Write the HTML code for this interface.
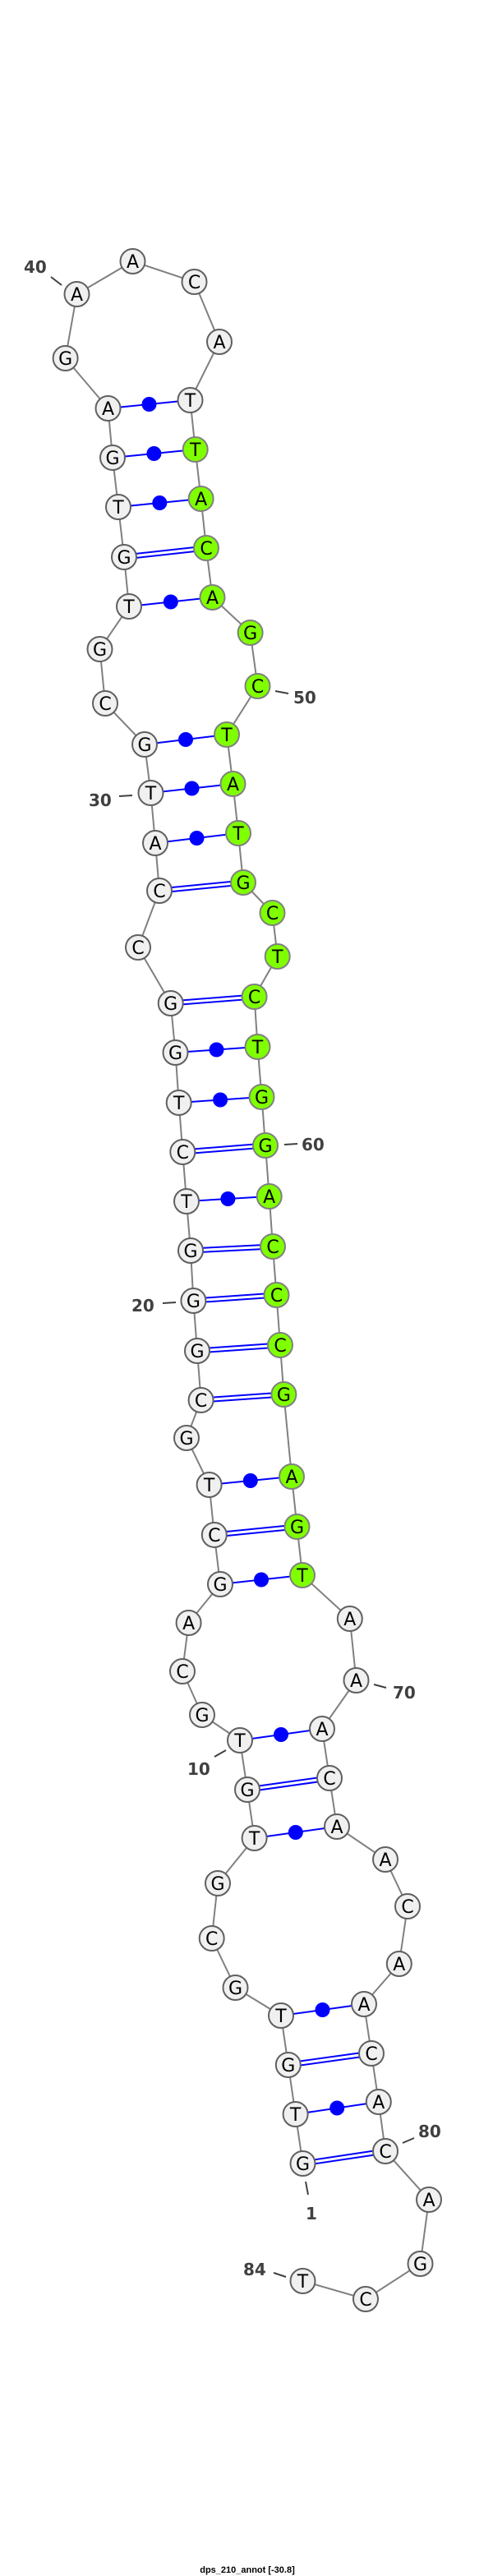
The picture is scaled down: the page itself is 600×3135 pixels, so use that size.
<!DOCTYPE html>
<html><head><meta charset="utf-8"><style>
html,body{margin:0;padding:0;background:#fff;}
svg{display:block;}
.n{fill:#f0f0f0;stroke:#606060;stroke-width:2;}
.g{fill:#7fff00;stroke:#808080;stroke-width:2;}
.t{font-family:"DejaVu Sans","Liberation Sans",sans-serif;font-size:22px;text-anchor:middle;fill:#000;}
.l{font-family:"DejaVu Sans","Liberation Sans",sans-serif;font-size:20px;font-weight:bold;fill:#404040;}
.bb{fill:none;stroke:#808080;stroke-width:2;}
.d1{stroke:#0000ff;stroke-width:7;}
.d2{stroke:#fff;stroke-width:3;}
.s{stroke:#0000ff;stroke-width:2;}
.tk{stroke:#404040;stroke-width:2;}
</style></head><body>
<svg width="600" height="3135" viewBox="0 0 600 3135" xmlns="http://www.w3.org/2000/svg">
<polyline class="bb" points="368.5,2633 359.6,2573 350.8,2513 342,2453 286.5,2419 257.7,2359 265,2292 309.6,2237 301,2178 292,2118 246,2087 222,2034 229.6,1975 268,1928 260.8,1868 254.6,1807 227,1750 244.6,1704 240,1644 235.4,1583 232,1522 227,1462 222.3,1402 217.7,1342 213.5,1281 207.7,1221 168,1153 194,1084 189,1026 183.5,965 176,906 128,856 121.5,790 157,738 151,678 144,617 137,557 131.5,497 79.6,436 93.5,358 161.5,318 236.5,343 267,416 231.5,487 237.7,547 244.6,607 251,667 258.5,727 304.6,770 313.5,835 276,894 283.5,954 290,1014 296,1074 331.5,1111 337.7,1164 309.6,1213 313.5,1274 318.5,1335 323,1394 327.7,1456 332,1517 336.5,1576 341,1637 345.4,1697 355,1797 361.5,1858 368,1917 425.8,1970 433.5,2045 392,2104 401,2164 410,2223 469,2263 496,2320 485.8,2390 443,2439 452,2499 460.8,2558 469,2618 522,2677 511.5,2755 445,2798 368.5,2776"/>
<g>
<line class="d1" x1="368.5" y1="2633" x2="469" y2="2618"/><line class="d2" x1="368.5" y1="2633" x2="469" y2="2618"/>
<line class="d1" x1="350.8" y1="2513" x2="452" y2="2499"/><line class="d2" x1="350.8" y1="2513" x2="452" y2="2499"/>
<line class="d1" x1="301" y1="2178" x2="401" y2="2164"/><line class="d2" x1="301" y1="2178" x2="401" y2="2164"/>
<line class="d1" x1="260.8" y1="1868" x2="361.5" y2="1858"/><line class="d2" x1="260.8" y1="1868" x2="361.5" y2="1858"/>
<line class="d1" x1="244.6" y1="1704" x2="345.4" y2="1697"/><line class="d2" x1="244.6" y1="1704" x2="345.4" y2="1697"/>
<line class="d1" x1="240" y1="1644" x2="341" y2="1637"/><line class="d2" x1="240" y1="1644" x2="341" y2="1637"/>
<line class="d1" x1="235.4" y1="1583" x2="336.5" y2="1576"/><line class="d2" x1="235.4" y1="1583" x2="336.5" y2="1576"/>
<line class="d1" x1="232" y1="1522" x2="332" y2="1517"/><line class="d2" x1="232" y1="1522" x2="332" y2="1517"/>
<line class="d1" x1="222.3" y1="1402" x2="323" y2="1394"/><line class="d2" x1="222.3" y1="1402" x2="323" y2="1394"/>
<line class="d1" x1="207.7" y1="1221" x2="309.6" y2="1213"/><line class="d2" x1="207.7" y1="1221" x2="309.6" y2="1213"/>
<line class="d1" x1="194" y1="1084" x2="296" y2="1074"/><line class="d2" x1="194" y1="1084" x2="296" y2="1074"/>
<line class="d1" x1="151" y1="678" x2="251" y2="667"/><line class="d2" x1="151" y1="678" x2="251" y2="667"/>
</g>
<g>
<line class="s" x1="359.6" y1="2573" x2="460.8" y2="2558"/><circle cx="410.2" cy="2565.5" r="9" fill="#00f"/>
<line class="s" x1="342" y1="2453" x2="443" y2="2439"/><circle cx="392.5" cy="2446" r="9" fill="#00f"/>
<line class="s" x1="309.6" y1="2237" x2="410" y2="2223"/><circle cx="359.8" cy="2230" r="9" fill="#00f"/>
<line class="s" x1="292" y1="2118" x2="392" y2="2104"/><circle cx="342" cy="2111" r="9" fill="#00f"/>
<line class="s" x1="268" y1="1928" x2="368" y2="1917"/><circle cx="318" cy="1922.5" r="9" fill="#00f"/>
<line class="s" x1="254.6" y1="1807" x2="355" y2="1797"/><circle cx="304.8" cy="1802" r="9" fill="#00f"/>
<line class="s" x1="227" y1="1462" x2="327.7" y2="1456"/><circle cx="277.4" cy="1459" r="9" fill="#00f"/>
<line class="s" x1="217.7" y1="1342" x2="318.5" y2="1335"/><circle cx="268.1" cy="1338.5" r="9" fill="#00f"/>
<line class="s" x1="213.5" y1="1281" x2="313.5" y2="1274"/><circle cx="263.5" cy="1277.5" r="9" fill="#00f"/>
<line class="s" x1="189" y1="1026" x2="290" y2="1014"/><circle cx="239.5" cy="1020" r="9" fill="#00f"/>
<line class="s" x1="183.5" y1="965" x2="283.5" y2="954"/><circle cx="233.5" cy="959.5" r="9" fill="#00f"/>
<line class="s" x1="176" y1="906" x2="276" y2="894"/><circle cx="226" cy="900" r="9" fill="#00f"/>
<line class="s" x1="157" y1="738" x2="258.5" y2="727"/><circle cx="207.8" cy="732.5" r="9" fill="#00f"/>
<line class="s" x1="144" y1="617" x2="244.6" y2="607"/><circle cx="194.3" cy="612" r="9" fill="#00f"/>
<line class="s" x1="137" y1="557" x2="237.7" y2="547"/><circle cx="187.4" cy="552" r="9" fill="#00f"/>
<line class="s" x1="131.5" y1="497" x2="231.5" y2="487"/><circle cx="181.5" cy="492" r="9" fill="#00f"/>
</g>
<line class="tk" x1="62" y1="337" x2="75" y2="347"/>
<line class="tk" x1="335" y1="841" x2="351" y2="844"/>
<line class="tk" x1="145" y1="969" x2="161" y2="968"/>
<line class="tk" x1="346" y1="1393" x2="362" y2="1392"/>
<line class="tk" x1="198" y1="1586" x2="214" y2="1585"/>
<line class="tk" x1="455" y1="2050" x2="470" y2="2054"/>
<line class="tk" x1="261" y1="2138" x2="275" y2="2130"/>
<line class="tk" x1="490" y1="2608" x2="504" y2="2602"/>
<line class="tk" x1="372" y1="2655" x2="375" y2="2671"/>
<line class="tk" x1="333" y1="2766" x2="348" y2="2771"/>
<text class="l" x="29" y="332">40</text>
<text class="l" x="357" y="856">50</text>
<text class="l" x="108" y="981">30</text>
<text class="l" x="367" y="1400">60</text>
<text class="l" x="160" y="1596">20</text>
<text class="l" x="478" y="2067">70</text>
<text class="l" x="228" y="2160">10</text>
<text class="l" x="509" y="2601">80</text>
<text class="l" x="372" y="2701">1</text>
<text class="l" x="296" y="2769">84</text>
<g>
<circle class="n" cx="368.5" cy="2633" r="15"/><text class="t" x="368.5" y="2641">G</text>
<circle class="n" cx="359.6" cy="2573" r="15"/><text class="t" x="359.6" y="2581">T</text>
<circle class="n" cx="350.8" cy="2513" r="15"/><text class="t" x="350.8" y="2521">G</text>
<circle class="n" cx="342" cy="2453" r="15"/><text class="t" x="342" y="2461">T</text>
<circle class="n" cx="286.5" cy="2419" r="15"/><text class="t" x="286.5" y="2427">G</text>
<circle class="n" cx="257.7" cy="2359" r="15"/><text class="t" x="257.7" y="2367">C</text>
<circle class="n" cx="265" cy="2292" r="15"/><text class="t" x="265" y="2300">G</text>
<circle class="n" cx="309.6" cy="2237" r="15"/><text class="t" x="309.6" y="2245">T</text>
<circle class="n" cx="301" cy="2178" r="15"/><text class="t" x="301" y="2186">G</text>
<circle class="n" cx="292" cy="2118" r="15"/><text class="t" x="292" y="2126">T</text>
<circle class="n" cx="246" cy="2087" r="15"/><text class="t" x="246" y="2095">G</text>
<circle class="n" cx="222" cy="2034" r="15"/><text class="t" x="222" y="2042">C</text>
<circle class="n" cx="229.6" cy="1975" r="15"/><text class="t" x="229.6" y="1983">A</text>
<circle class="n" cx="268" cy="1928" r="15"/><text class="t" x="268" y="1936">G</text>
<circle class="n" cx="260.8" cy="1868" r="15"/><text class="t" x="260.8" y="1876">C</text>
<circle class="n" cx="254.6" cy="1807" r="15"/><text class="t" x="254.6" y="1815">T</text>
<circle class="n" cx="227" cy="1750" r="15"/><text class="t" x="227" y="1758">G</text>
<circle class="n" cx="244.6" cy="1704" r="15"/><text class="t" x="244.6" y="1712">C</text>
<circle class="n" cx="240" cy="1644" r="15"/><text class="t" x="240" y="1652">G</text>
<circle class="n" cx="235.4" cy="1583" r="15"/><text class="t" x="235.4" y="1591">G</text>
<circle class="n" cx="232" cy="1522" r="15"/><text class="t" x="232" y="1530">G</text>
<circle class="n" cx="227" cy="1462" r="15"/><text class="t" x="227" y="1470">T</text>
<circle class="n" cx="222.3" cy="1402" r="15"/><text class="t" x="222.3" y="1410">C</text>
<circle class="n" cx="217.7" cy="1342" r="15"/><text class="t" x="217.7" y="1350">T</text>
<circle class="n" cx="213.5" cy="1281" r="15"/><text class="t" x="213.5" y="1289">G</text>
<circle class="n" cx="207.7" cy="1221" r="15"/><text class="t" x="207.7" y="1229">G</text>
<circle class="n" cx="168" cy="1153" r="15"/><text class="t" x="168" y="1161">C</text>
<circle class="n" cx="194" cy="1084" r="15"/><text class="t" x="194" y="1092">C</text>
<circle class="n" cx="189" cy="1026" r="15"/><text class="t" x="189" y="1034">A</text>
<circle class="n" cx="183.5" cy="965" r="15"/><text class="t" x="183.5" y="973">T</text>
<circle class="n" cx="176" cy="906" r="15"/><text class="t" x="176" y="914">G</text>
<circle class="n" cx="128" cy="856" r="15"/><text class="t" x="128" y="864">C</text>
<circle class="n" cx="121.5" cy="790" r="15"/><text class="t" x="121.5" y="798">G</text>
<circle class="n" cx="157" cy="738" r="15"/><text class="t" x="157" y="746">T</text>
<circle class="n" cx="151" cy="678" r="15"/><text class="t" x="151" y="686">G</text>
<circle class="n" cx="144" cy="617" r="15"/><text class="t" x="144" y="625">T</text>
<circle class="n" cx="137" cy="557" r="15"/><text class="t" x="137" y="565">G</text>
<circle class="n" cx="131.5" cy="497" r="15"/><text class="t" x="131.5" y="505">A</text>
<circle class="n" cx="79.6" cy="436" r="15"/><text class="t" x="79.6" y="444">G</text>
<circle class="n" cx="93.5" cy="358" r="15"/><text class="t" x="93.5" y="366">A</text>
<circle class="n" cx="161.5" cy="318" r="15"/><text class="t" x="161.5" y="326">A</text>
<circle class="n" cx="236.5" cy="343" r="15"/><text class="t" x="236.5" y="351">C</text>
<circle class="n" cx="267" cy="416" r="15"/><text class="t" x="267" y="424">A</text>
<circle class="n" cx="231.5" cy="487" r="15"/><text class="t" x="231.5" y="495">T</text>
<circle class="g" cx="237.7" cy="547" r="15"/><text class="t" x="237.7" y="555">T</text>
<circle class="g" cx="244.6" cy="607" r="15"/><text class="t" x="244.6" y="615">A</text>
<circle class="g" cx="251" cy="667" r="15"/><text class="t" x="251" y="675">C</text>
<circle class="g" cx="258.5" cy="727" r="15"/><text class="t" x="258.5" y="735">A</text>
<circle class="g" cx="304.6" cy="770" r="15"/><text class="t" x="304.6" y="778">G</text>
<circle class="g" cx="313.5" cy="835" r="15"/><text class="t" x="313.5" y="843">C</text>
<circle class="g" cx="276" cy="894" r="15"/><text class="t" x="276" y="902">T</text>
<circle class="g" cx="283.5" cy="954" r="15"/><text class="t" x="283.5" y="962">A</text>
<circle class="g" cx="290" cy="1014" r="15"/><text class="t" x="290" y="1022">T</text>
<circle class="g" cx="296" cy="1074" r="15"/><text class="t" x="296" y="1082">G</text>
<circle class="g" cx="331.5" cy="1111" r="15"/><text class="t" x="331.5" y="1119">C</text>
<circle class="g" cx="337.7" cy="1164" r="15"/><text class="t" x="337.7" y="1172">T</text>
<circle class="g" cx="309.6" cy="1213" r="15"/><text class="t" x="309.6" y="1221">C</text>
<circle class="g" cx="313.5" cy="1274" r="15"/><text class="t" x="313.5" y="1282">T</text>
<circle class="g" cx="318.5" cy="1335" r="15"/><text class="t" x="318.5" y="1343">G</text>
<circle class="g" cx="323" cy="1394" r="15"/><text class="t" x="323" y="1402">G</text>
<circle class="g" cx="327.7" cy="1456" r="15"/><text class="t" x="327.7" y="1464">A</text>
<circle class="g" cx="332" cy="1517" r="15"/><text class="t" x="332" y="1525">C</text>
<circle class="g" cx="336.5" cy="1576" r="15"/><text class="t" x="336.5" y="1584">C</text>
<circle class="g" cx="341" cy="1637" r="15"/><text class="t" x="341" y="1645">C</text>
<circle class="g" cx="345.4" cy="1697" r="15"/><text class="t" x="345.4" y="1705">G</text>
<circle class="g" cx="355" cy="1797" r="15"/><text class="t" x="355" y="1805">A</text>
<circle class="g" cx="361.5" cy="1858" r="15"/><text class="t" x="361.5" y="1866">G</text>
<circle class="g" cx="368" cy="1917" r="15"/><text class="t" x="368" y="1925">T</text>
<circle class="n" cx="425.8" cy="1970" r="15"/><text class="t" x="425.8" y="1978">A</text>
<circle class="n" cx="433.5" cy="2045" r="15"/><text class="t" x="433.5" y="2053">A</text>
<circle class="n" cx="392" cy="2104" r="15"/><text class="t" x="392" y="2112">A</text>
<circle class="n" cx="401" cy="2164" r="15"/><text class="t" x="401" y="2172">C</text>
<circle class="n" cx="410" cy="2223" r="15"/><text class="t" x="410" y="2231">A</text>
<circle class="n" cx="469" cy="2263" r="15"/><text class="t" x="469" y="2271">A</text>
<circle class="n" cx="496" cy="2320" r="15"/><text class="t" x="496" y="2328">C</text>
<circle class="n" cx="485.8" cy="2390" r="15"/><text class="t" x="485.8" y="2398">A</text>
<circle class="n" cx="443" cy="2439" r="15"/><text class="t" x="443" y="2447">A</text>
<circle class="n" cx="452" cy="2499" r="15"/><text class="t" x="452" y="2507">C</text>
<circle class="n" cx="460.8" cy="2558" r="15"/><text class="t" x="460.8" y="2566">A</text>
<circle class="n" cx="469" cy="2618" r="15"/><text class="t" x="469" y="2626">C</text>
<circle class="n" cx="522" cy="2677" r="15"/><text class="t" x="522" y="2685">A</text>
<circle class="n" cx="511.5" cy="2755" r="15"/><text class="t" x="511.5" y="2763">G</text>
<circle class="n" cx="445" cy="2798" r="15"/><text class="t" x="445" y="2806">C</text>
<circle class="n" cx="368.5" cy="2776" r="15"/><text class="t" x="368.5" y="2784">T</text>
</g>
<text x="301" y="3131" text-anchor="middle" style="font-family:'Liberation Sans Narrow','Liberation Sans',sans-serif;font-size:11px;font-weight:bold;fill:#000;">dps_210_annot [-30.8]</text>
</svg>
</body></html>
